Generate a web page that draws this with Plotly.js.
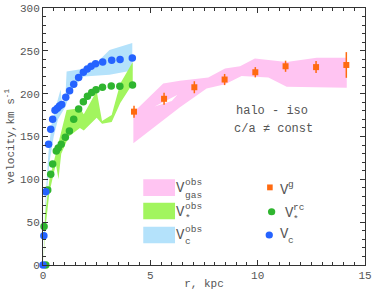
<!DOCTYPE html>
<html>
<head>
<meta charset="utf-8">
<script src="https://cdn.plot.ly/plotly-3.0.1.min.js"></script>
<style>html,body{margin:0;padding:0;background:#fff;}#chart{width:374px;height:290px;}</style>
</head>
<body>
<div id="chart"></div>
<script>
// ---- data ----
// Vc (blue dots)
const vcR = [0, 0.04, 0.13, 0.26, 0.36, 0.45, 0.56, 0.67, 0.77, 0.87, 1.06, 1.24, 1.43, 1.66, 1.88, 2.06, 2.24, 2.45, 2.78, 3.2, 3.59, 4.16];
const vcV = [0, 34, 85.5, 141, 158.5, 170, 180.5, 183, 185.5, 187.5, 195.7, 203.4, 211, 219, 225, 228.7, 232, 235, 237, 239, 240, 241.5];
// V*rc (green dots)
const vsR = [0.13, 0.05, 0.22, 0.36, 0.45, 0.62, 0.71, 0.85, 1.04, 1.23, 1.43, 1.66, 1.88, 2.07, 2.27, 2.47, 2.77, 3.18, 3.58, 4.17];
const vsV = [0, 45, 87.5, 106, 118, 133, 136.5, 141, 149, 156.5, 170, 182, 190.5, 197, 201.5, 204.6, 207.5, 209, 208.8, 210];
// Vg (orange squares with errors)
const vgR = [4.24, 5.64, 7.05, 8.46, 9.89, 11.3, 12.72, 14.13];
const vgV = [179, 194, 207.5, 216.5, 225, 232, 231, 233.5];
const vgE = [7, 7, 7, 6.5, 6, 6.5, 7, 15];
// V_gas obs band
const gasUpR = [4.21, 5.6, 6.38, 7.7, 8.48, 9.18, 9.87, 11.35, 12.75, 14.15];
const gasUpV = [178, 212, 215, 219, 229.5, 232, 241, 237, 242, 242];
const gasLoR = [14.15, 11.35, 10.5, 9.25, 8.48, 7.62, 6.38, 4.21];
const gasLoV = [207, 208, 219, 220.5, 211, 206, 184, 142];
const gasHoleR = [6.25, 5.2, 6.0];
const gasHoleV = [198.5, 185, 191.5];
// V* obs band
const stUpR = [0.02, 0.1, 0.3, 0.5, 0.7, 1.1, 1.72, 1.9, 2.5, 2.75, 3.2, 3.6, 4.18];
const stUpV = [0, 60, 100, 120, 140, 181, 183, 176, 203, 168, 175, 212, 237];
const stLoR = [4.18, 3.6, 3.2, 2.75, 2.5, 1.9, 1.72, 1.2, 0.85, 0.72, 0.6, 0.3, 0.1, 0.02];
const stLoV = [212, 189, 167, 165, 172, 157, 160, 150, 130, 100, 118, 85, 40, 0];
// Vc obs band
const cUpR = [0, 0.1, 0.25, 0.4, 0.6, 0.82, 0.9, 1.05, 1.1, 1.9, 2.5, 3.1, 4.16];
const cUpV = [0, 70, 130, 165, 185, 205, 185, 200, 226, 229, 236, 251, 259];
const cLoR = [4.16, 3.1, 2.4, 1.9, 1.5, 1.25, 1.05, 0.9, 0.7, 0.5, 0.3, 0.1, 0];
const cLoV = [227, 222, 221, 220, 210, 200, 185, 178, 170, 150, 120, 60, 0];

const FONT = 'Liberation Mono, Courier New, monospace';
const TXT = '#555';
const PINK = '#ffc4f2', GREEN = '#a2f55e', LBLUE = '#b4e2fb';

// keyhole polygon for gas band (hole reached via a zero-width cut)
const cutIdx = gasLoR.indexOf(6.38);
const gx = gasUpR.concat(gasLoR.slice(0, cutIdx + 1), gasHoleR, [gasHoleR[0]], gasLoR.slice(cutIdx));
const gy = gasUpV.concat(gasLoV.slice(0, cutIdx + 1), gasHoleV, [gasHoleV[0]], gasLoV.slice(cutIdx));

const traces = [
  {x: gx, y: gy, mode: 'lines', fill: 'toself', fillcolor: PINK, line: {width: 0}, hoverinfo: 'skip'},
  {x: cUpR.concat(cLoR), y: cUpV.concat(cLoV), mode: 'lines', fill: 'toself', fillcolor: LBLUE, line: {width: 0}},
  {x: stUpR.concat(stLoR), y: stUpV.concat(stLoV), mode: 'lines', fill: 'toself', fillcolor: GREEN, line: {width: 0}},
  {x: vgR, y: vgV, mode: 'markers', marker: {symbol: 'square', size: 6, color: '#ff6a10'},
   error_y: {type: 'data', array: vgE, visible: true, color: '#ff6a10', thickness: 1.5, width: 0}, cliponaxis: false},
  {x: vsR, y: vsV, mode: 'markers', marker: {size: 7.5, color: '#2fb52f'}, cliponaxis: false},
  {x: vcR, y: vcV, mode: 'markers', marker: {size: 7.5, color: '#2563ff'}, cliponaxis: false}
];

function ann(x, y, text, size, xanchor) {
  return {x: x, y: y, xref: 'x', yref: 'y', text: text, showarrow: false,
          font: {family: FONT, size: size, color: TXT}, xanchor: xanchor || 'center', yanchor: 'middle'};
}

const annotations = [
  ann(10.65, 179.7, 'halo - iso', 12),
  ann(10.75, 158.7, 'c/a \u2260 const', 12),
  // left legend labels
  ann(6.1, 89.5, 'V', 14, 'left'), ann(6.5, 96, 'obs', 9.5, 'left'), ann(6.5, 81.5, 'gas', 9.5, 'left'),
  ann(6.1, 62, 'V', 14, 'left'), ann(6.5, 68.5, 'obs', 9.5, 'left'), ann(6.5, 54.5, '*', 9.5, 'left'),
  ann(6.1, 35, 'V', 14, 'left'), ann(6.5, 41.5, 'obs', 9.5, 'left'), ann(6.5, 27, 'c', 9.5, 'left'),
  // right legend labels
  ann(10.95, 87.5, 'V', 14, 'left'), ann(11.3, 94.5, 'g', 9.5, 'left'),
  ann(11.2, 61, 'V', 14, 'left'), ann(11.55, 67.5, 'rc', 9.5, 'left'), ann(11.55, 53.5, '*', 9.5, 'left'),
  ann(10.95, 36, 'V', 14, 'left'), ann(11.3, 28.5, 'c', 9.5, 'left')
];

const shapes = [
  {type: 'rect', xref: 'x', yref: 'y', x0: 4.67, x1: 6.15, y0: 80.5, y1: 100, fillcolor: PINK, line: {width: 0}},
  {type: 'rect', xref: 'x', yref: 'y', x0: 4.67, x1: 6.15, y0: 53.3, y1: 72.7, fillcolor: GREEN, line: {width: 0}},
  {type: 'rect', xref: 'x', yref: 'y', x0: 4.67, x1: 6.15, y0: 25.3, y1: 44.7, fillcolor: LBLUE, line: {width: 0}},
  {type: 'rect', xref: 'x', yref: 'y', x0: 10.44, x1: 10.7, y0: 87.2, y1: 94, fillcolor: '#ff6a10', line: {width: 0}},
  {type: 'circle', xref: 'x', yref: 'y', x0: 10.48, x1: 10.82, y0: 58.1, y1: 66.3, fillcolor: '#2fb52f', line: {width: 0}},
  {type: 'circle', xref: 'x', yref: 'y', x0: 10.37, x1: 10.71, y0: 30.9, y1: 39.1, fillcolor: '#2563ff', line: {width: 0}}
];

const axisCommon = {
  showgrid: false, zeroline: false, showline: true, linecolor: '#333', linewidth: 1,
  mirror: 'ticks', ticks: 'inside', ticklen: 5, tickcolor: '#333', tickwidth: 1,
  tickfont: {family: FONT, size: 11, color: TXT}
};

const layout = {
  width: 374, height: 290,
  margin: {l: 43, r: 9, t: 8, b: 25},
  paper_bgcolor: '#fff', plot_bgcolor: '#fff',
  showlegend: false,
  xaxis: Object.assign({}, axisCommon, {
    range: [0, 15], dtick: 5, tick0: 0,
    minor: {dtick: 0.5, ticklen: 3, ticks: 'inside', tickcolor: '#333'},
    title: {text: 'r, kpc', font: {family: FONT, size: 11, color: TXT}, standoff: 2}
  }),
  yaxis: Object.assign({}, axisCommon, {
    range: [0, 300], dtick: 50, tick0: 0,
    minor: {dtick: 10, ticklen: 3, ticks: 'inside', tickcolor: '#333'},
    title: {text: 'velocity,km s<sup>-1</sup>', font: {family: FONT, size: 11, color: TXT}, standoff: 3}
  }),
  annotations: annotations,
  shapes: shapes
};

Plotly.newPlot('chart', traces, layout, {staticPlot: true});
</script>
</body>
</html>
